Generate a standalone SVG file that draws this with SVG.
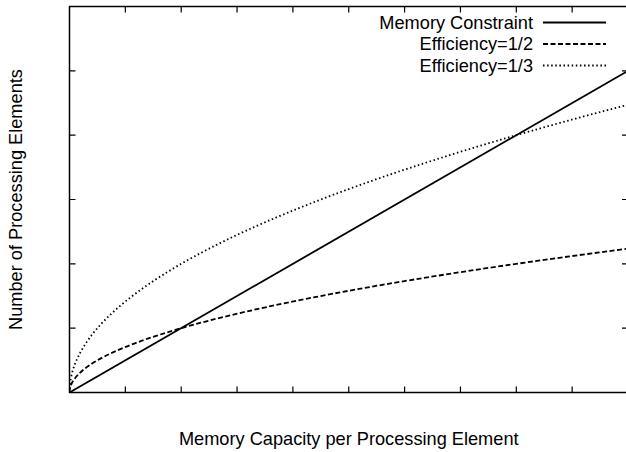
<svg xmlns="http://www.w3.org/2000/svg" width="626" height="452" viewBox="0 0 626 452">
  <style>
    .frame { fill: none; stroke: #000; stroke-width: 1.5; }
    .tick { stroke: #000; stroke-width: 1.2; fill: none; }
    .txt { font-family: "Liberation Sans", Arial, Helvetica, sans-serif; font-size: 18.2px; fill: #000; }
    .solid { fill: none; stroke: #000; stroke-width: 1.8; }
    .dashed { fill: none; stroke: #000; stroke-width: 1.8; stroke-dasharray: 5 2.5; }
    .dotted { fill: none; stroke: #000; stroke-width: 1.8; stroke-dasharray: 1.5 2.6; }
  </style>
  <defs>
    <clipPath id="plotclip">
      <rect x="69.5" y="6.5" width="558.5" height="386"/>
    </clipPath>
  </defs>
  <rect width="626" height="452" fill="#fff"/>

  <g id="axes">
    <path class="tick" d="M125.35,392.5v-6 M181.2,392.5v-6 M237.05,392.5v-6 M292.9,392.5v-6 M348.75,392.5v-6 M404.6,392.5v-6 M460.45,392.5v-6 M516.3,392.5v-6 M572.15,392.5v-6
                          M125.35,6.5v6 M181.2,6.5v6 M237.05,6.5v6 M292.9,6.5v6 M348.75,6.5v6 M404.6,6.5v6 M460.45,6.5v6 M516.3,6.5v6 M572.15,6.5v6
                          M69.5,328.17h6 M69.5,263.83h6 M69.5,199.5h6 M69.5,135.17h6 M69.5,70.83h6
                          M628,328.17h-6 M628,263.83h-6 M628,199.5h-6 M628,135.17h-6 M628,70.83h-6"/>
    <rect class="frame" x="69.5" y="6.5" width="558.5" height="386"/>
  </g>

  <g id="curves" clip-path="url(#plotclip)">
    <path id="memory-constraint" class="solid" d="M69.5,392.5 L628,70.83"/>
    <path id="efficiency-half" class="dashed" d="M69.5,392.5 Q69.5,320.57 628,248.65"/>
    <path id="efficiency-third" class="dotted" d="M69.5,392.5 Q69.5,248.64 628,104.79"/>
  </g>

  <g id="legend">
    <g id="legend-memory">
      <text class="txt" x="533" y="28.5" text-anchor="end">Memory Constraint</text>
      <path class="solid" d="M543,22.5 H606"/>
    </g>
    <g id="legend-half">
      <text class="txt" x="533" y="50" text-anchor="end">Efficiency=1/2</text>
      <path class="dashed" d="M543,44 H606"/>
    </g>
    <g id="legend-third">
      <text class="txt" x="533" y="71.5" text-anchor="end">Efficiency=1/3</text>
      <path class="dotted" d="M543,65.5 H606"/>
    </g>
  </g>

  <g id="x-label">
    <text class="txt" x="348.75" y="445" text-anchor="middle">Memory Capacity per Processing Element</text>
  </g>
  <g id="y-label">
    <text class="txt" transform="translate(22,199.5) rotate(-90)" text-anchor="middle">Number of Processing Elements</text>
  </g>
</svg>
